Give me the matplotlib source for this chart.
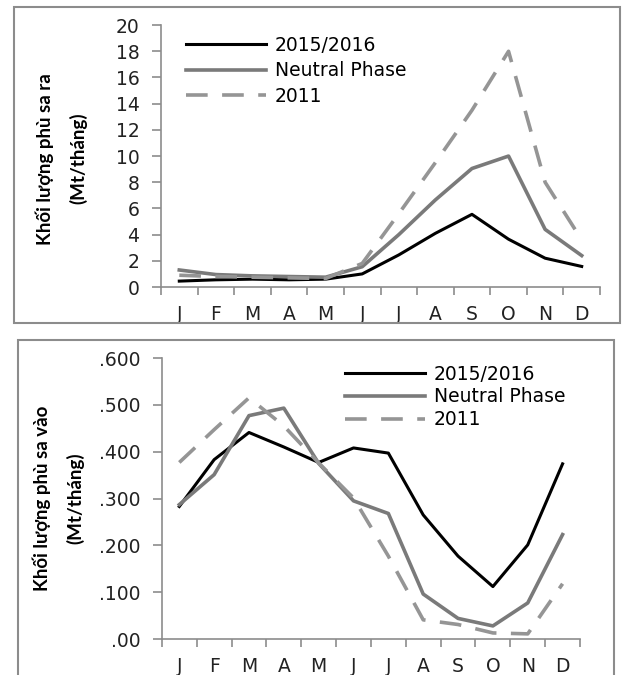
import matplotlib
matplotlib.use("Agg")
import matplotlib.pyplot as plt
from matplotlib.patches import Rectangle
from matplotlib.ticker import FixedLocator, FixedFormatter

months = ["J", "F", "M", "A", "M", "J", "J", "A", "S", "O", "N", "D"]
series_names = ["2015/2016", "Neutral Phase", "2011"]

# sediment out (Mt/month)
out_2015 = [0.45, 0.55, 0.6, 0.55, 0.6, 1.0, 2.45, 4.1, 5.55, 3.65, 2.2, 1.57]
out_neutral = [1.3, 0.95, 0.85, 0.8, 0.75, 1.55, 4.0, 6.65, 9.05, 10.0, 4.4, 2.4]
out_2011 = [0.9, 0.8, 0.75, 0.7, 0.65, 1.8, 5.6, 9.5, 13.5, 18.0, 8.0, 3.6]
out_ticks = [0, 2, 4, 6, 8, 10, 12, 14, 16, 18, 20]

# sediment in (Mt/month)
in_2015 = [0.283, 0.383, 0.441, 0.41, 0.377, 0.408, 0.397, 0.265, 0.177, 0.112, 0.201, 0.374]
in_neutral = [0.287, 0.351, 0.477, 0.493, 0.375, 0.295, 0.268, 0.096, 0.044, 0.028, 0.077, 0.223]
in_2011 = [0.377, 0.447, 0.515, 0.455, 0.376, 0.301, 0.177, 0.041, 0.031, 0.013, 0.011, 0.118]
in_ticks = [0, 0.1, 0.2, 0.3, 0.4, 0.5, 0.6]
in_tick_labels = [".00", ".100", ".200", ".300", ".400", ".500", ".600"]

label_font = ["Lato", "DejaVu Sans"]
tick_font = ["DejaVu Sans"]

fig = plt.figure(figsize=(6.25, 6.75), dpi=100)

# panel frames
fig.patches.append(Rectangle((0.0224, 0.5215), 0.9696, 0.468, transform=fig.transFigure,
                             fill=False, edgecolor="#8c8c8c", linewidth=1.5))
fig.patches.append(Rectangle((0.0288, -0.02), 0.9536, 0.516, transform=fig.transFigure,
                             fill=False, edgecolor="#8c8c8c", linewidth=1.5))


def style_axes(ax):
    for s in ["top", "right"]:
        ax.spines[s].set_visible(False)
    for s in ["left", "bottom"]:
        ax.spines[s].set_color("#8c8c8c")
        ax.spines[s].set_linewidth(1.2)
    ax.set_xlim(-0.5, 11.5)
    ax.xaxis.set_major_locator(FixedLocator(range(12)))
    ax.xaxis.set_major_formatter(FixedFormatter(months))
    ax.xaxis.set_minor_locator(FixedLocator([i - 0.5 for i in range(13)]))
    ax.tick_params(axis="x", which="major", length=0, pad=13, labelsize=13.5)
    ax.tick_params(axis="x", which="minor", length=6, color="#8c8c8c", width=1.2)
    ax.tick_params(axis="y", length=6.5, color="#8c8c8c", width=1.2, labelsize=13.5, pad=9)
    for lab in ax.get_xticklabels() + ax.get_yticklabels():
        lab.set_family(tick_font)
        lab.set_color("#222222")


def draw(ax, a, b, c):
    x = range(12)
    ax.plot(x, a, color="black", linewidth=2.2, label=series_names[0])
    ax.plot(x, b, color="#7a7a7a", linewidth=2.6, label=series_names[1])
    ax.plot(x, c, color="#959595", linewidth=2.6, dashes=(6, 4), label=series_names[2])


# top panel
ax1 = fig.add_axes([0.2576, 0.5748, 0.7024, 0.388])
draw(ax1, out_2015, out_neutral, out_2011)
ax1.set_ylim(0, 20)
ax1.set_yticks(out_ticks)
style_axes(ax1)
ax1.set_ylabel("Khối lượng phù sa ra\n(Mt/tháng)", family=label_font, fontweight="bold",
               fontsize=13.5, linespacing=2.0)
ax1.yaxis.set_label_coords(-0.168, 0.49)
ax1.legend(loc="upper left", bbox_to_anchor=(0.035, 0.995), frameon=False,
           handlelength=4.3, handletextpad=0.45, labelspacing=0.35, borderpad=0,
           prop={"family": tick_font, "size": 13.5})

# bottom panel
ax2 = fig.add_axes([0.259, 0.0533, 0.669, 0.4163])
draw(ax2, in_2015, in_neutral, in_2011)
ax2.set_ylim(0, 0.6)
ax2.yaxis.set_major_locator(FixedLocator(in_ticks))
ax2.yaxis.set_major_formatter(FixedFormatter(in_tick_labels))
style_axes(ax2)
ax2.set_ylabel("Khối lượng phù sa vào\n(Mt/tháng)", family=label_font, fontweight="bold",
               fontsize=13.5, linespacing=2.0)
ax2.yaxis.set_label_coords(-0.185, 0.5)
ax2.legend(loc="upper left", bbox_to_anchor=(0.415, 1.01), frameon=False,
           handlelength=4.3, handletextpad=0.45, labelspacing=0.2, borderpad=0,
           prop={"family": tick_font, "size": 13.5})

fig.savefig("out.png", dpi=100)
